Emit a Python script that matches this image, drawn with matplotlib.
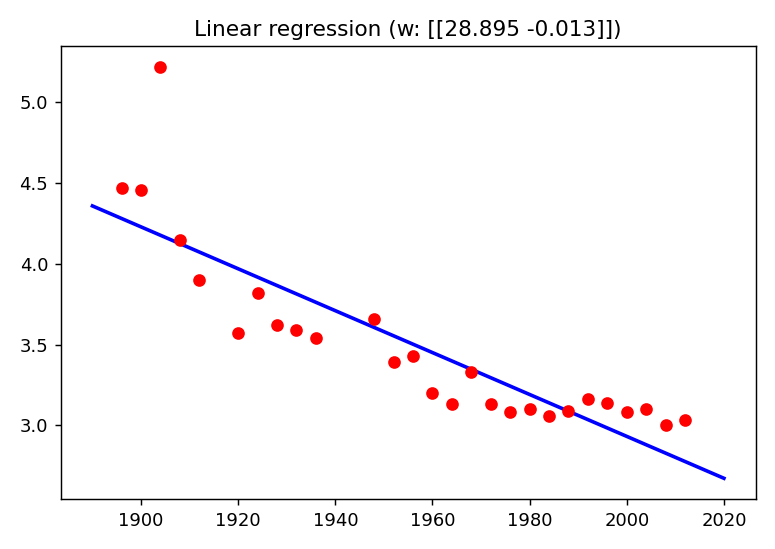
import numpy as np
import matplotlib.pyplot as plt

years = np.array([1896, 1900, 1904, 1908, 1912, 1920, 1924, 1928, 1932, 1936, 1948,
                  1952, 1956, 1960, 1964, 1968, 1972, 1976, 1980, 1984, 1988, 1992,
                  1996, 2000, 2004, 2008, 2012])
times = np.array([4.47, 4.46, 5.22, 4.15, 3.90, 3.57, 3.82, 3.62, 3.59, 3.54, 3.66,
                  3.39, 3.43, 3.20, 3.13, 3.33, 3.13, 3.08, 3.10, 3.06, 3.09, 3.16,
                  3.14, 3.08, 3.10, 3.00, 3.03])
title = 'Linear regression (w: [[28.895 -0.013]])'

# least squares fit, drawn over 1890-2020
slope, intercept = np.polyfit(years, times, 1)
xs = np.linspace(1890, 2020, 100)

fig = plt.figure(figsize=(775 / 130, 549 / 130), dpi=130)
plt.plot(xs, intercept + slope * xs, color='blue', linewidth=2)
plt.plot(years, times, 'o', color='red')
plt.title(title)
plt.tight_layout()
plt.savefig('out.png')
